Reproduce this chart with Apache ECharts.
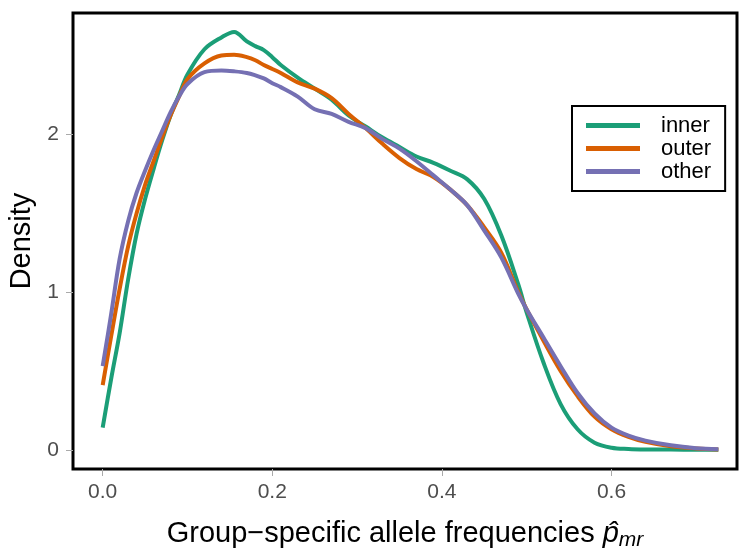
<!DOCTYPE html>
<html>
<head>
    <meta charset="utf-8">
    <title>Allele frequency density</title>
    <script src="https://cdn.jsdelivr.net/npm/echarts@6/dist/echarts.min.js"></script>
    <style>
        html, body { margin: 0; padding: 0; background: #fff; }
        #chart { width: 739px; height: 553px; }
    </style>
</head>
<body>
    <div id="chart"></div>
    <script>
        // x grid (allele frequency) and density
        const xs    = [0, 0.01, 0.02, 0.03, 0.04, 0.05, 0.06, 0.07, 0.08, 0.09, 0.10, 0.12, 0.14, 0.155, 0.17, 0.18, 0.19, 0.20, 0.21, 0.23, 0.25, 0.27, 0.29, 0.31, 0.33, 0.35, 0.37, 0.39, 0.41, 0.43, 0.45, 0.47, 0.49, 0.50, 0.52, 0.54, 0.56, 0.58, 0.60, 0.62, 0.64, 0.67, 0.70, 0.726];
        const inner = [0.14, 0.45, 0.74, 1.08, 1.37, 1.59, 1.78, 1.96, 2.12, 2.25, 2.38, 2.54, 2.615, 2.65, 2.59, 2.56, 2.535, 2.49, 2.44, 2.36, 2.29, 2.22, 2.12, 2.05, 1.98, 1.92, 1.86, 1.82, 1.77, 1.715, 1.59, 1.36, 1.05, 0.87, 0.55, 0.29, 0.13, 0.045, 0.013, 0.005, 0.002, 0.001, 0, 0];
        const outer = [0.41, 0.72, 1.02, 1.29, 1.50, 1.68, 1.83, 1.98, 2.12, 2.24, 2.35, 2.45, 2.50, 2.505, 2.49, 2.47, 2.44, 2.415, 2.39, 2.33, 2.29, 2.23, 2.13, 2.04, 1.94, 1.85, 1.78, 1.73, 1.65, 1.55, 1.41, 1.25, 1.00, 0.89, 0.69, 0.50, 0.34, 0.21, 0.13, 0.082, 0.05, 0.022, 0.008, 0.002];
        const other = [0.53, 0.86, 1.21, 1.45, 1.63, 1.77, 1.90, 2.02, 2.14, 2.24, 2.32, 2.395, 2.405, 2.40, 2.39, 2.375, 2.355, 2.325, 2.30, 2.24, 2.16, 2.13, 2.08, 2.04, 1.97, 1.91, 1.83, 1.74, 1.65, 1.55, 1.39, 1.22, 0.99, 0.89, 0.71, 0.53, 0.36, 0.23, 0.14, 0.09, 0.058, 0.028, 0.01, 0.003];

        const groups = ['inner', 'outer', 'other'];
        const colors = ['#1B9E77', '#D95F02', '#7570B3'];
        const xTicks = [0, 0.2, 0.4, 0.6];
        const yTicks = [0, 1, 2];

        const font = 'Liberation Sans, Arial, sans-serif';
        const chart = echarts.init(document.getElementById('chart'));

        const series = [inner, outer, other].map((ys, i) => ({
            name: groups[i],
            type: 'line',
            data: xs.map((x, j) => [x, ys[j]]),
            smooth: 0.35,
            symbol: 'none',
            lineStyle: { width: 4, color: colors[i], cap: 'butt' },
            itemStyle: { color: colors[i] },
            z: 2 + i
        }));

        chart.setOption({
            animation: false,
            grid: {
                left: 73, right: 2, top: 13, bottom: 84,
                outerBoundsMode: 'none',
                show: true,
                borderColor: '#000',
                borderWidth: 3,
                backgroundColor: '#fff'
            },
            legend: {
                data: groups,
                orient: 'vertical',
                left: 572,
                top: 106,
                padding: [8, 14, 8, 14],
                backgroundColor: '#fff',
                borderColor: '#000',
                borderWidth: 2,
                itemWidth: 54,
                itemHeight: 5,
                itemGap: 0,
                icon: 'rect',
                textStyle: { fontFamily: font, fontSize: 22, color: '#000', lineHeight: 23, padding: [0, 0, 0, 16] }
            },
            xAxis: {
                type: 'value',
                min: -0.035,
                max: 0.748,
                splitLine: { show: false },
                axisLine: { show: false, onZero: false },
                axisTick: { show: true, length: 7, lineStyle: { color: '#aaa' }, customValues: xTicks },
                axisLabel: {
                    customValues: xTicks,
                    margin: 13,
                    color: '#4d4d4d',
                    fontFamily: font,
                    fontSize: 21,
                    formatter: v => v.toFixed(1)
                },
                name: '{t|Group\u2212specific allele frequencies }{p|p\u0302}{s|mr}',
                nameLocation: 'middle',
                nameGap: 47,
                nameTextStyle: {
                    rich: {
                        t: { fontFamily: font, fontSize: 29, color: '#000' },
                        p: { fontFamily: font, fontSize: 29, color: '#000', fontStyle: 'italic' },
                        s: { fontFamily: font, fontSize: 21, color: '#000', fontStyle: 'italic', padding: [14, 0, 0, 0] }
                    }
                }
            },
            yAxis: {
                type: 'value',
                min: -0.122,
                max: 2.77,
                splitLine: { show: false },
                axisLine: { show: false, onZero: false },
                axisTick: { show: true, length: 7, lineStyle: { color: '#aaa' }, customValues: yTicks },
                axisLabel: {
                    customValues: yTicks,
                    margin: 14,
                    color: '#4d4d4d',
                    fontFamily: font,
                    fontSize: 21,
                    formatter: v => String(v)
                },
                name: 'Density',
                nameLocation: 'middle',
                nameGap: 32,
                nameTextStyle: { fontFamily: font, fontSize: 29, color: '#000' }
            },
            series: series
        });
    </script>
</body>
</html>
